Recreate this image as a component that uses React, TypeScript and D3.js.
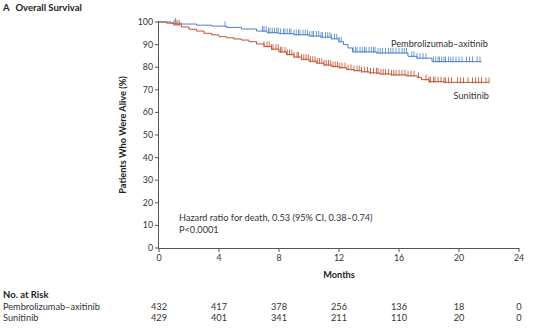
import React from "react";
import * as d3 from "d3";

const xTicks = [0, 4, 8, 12, 16, 20, 24];
const yTicks = [0, 10, 20, 30, 40, 50, 60, 70, 80, 90, 100];

const pembroMonths = [0, 0.8, 1.5, 2.5, 3.5, 4.5, 5.5, 6.5, 7.2, 8, 9, 10, 10.8, 11.5, 12, 12.3, 12.6, 12.9, 14.5, 16.6, 17.2, 18.2, 21.5];
const pembroSurv = [100, 99.5, 99.1, 98.6, 98.2, 97.6, 96.9, 96.0, 95.3, 94.9, 94.4, 93.8, 93.3, 92.6, 91.3, 90, 88.5, 86.8, 86.3, 84.8, 84, 82.5, 82.5];

const suniMonths = [0, 0.5, 1, 1.5, 2, 2.5, 3, 3.5, 4, 4.5, 5, 5.5, 6, 6.5, 7, 7.5, 8, 8.5, 9, 9.5, 10, 10.5, 11, 11.5, 12, 12.5, 13, 13.5, 14, 14.7, 15.5, 16.5, 17.2, 17.5, 18, 19, 22];
const suniSurv = [100, 99.5, 98.8, 97.8, 96.8, 96, 95, 94.3, 93.5, 93, 92.5, 92, 91.3, 90.3, 89.2, 88, 86.8, 85.6, 84.5, 83.5, 82.6, 81.8, 81, 80.3, 79.8, 79, 78.5, 78, 77.5, 77, 76.6, 76.2, 75.5, 74.5, 73.6, 73.3, 73.3];

const pembroCensor = [1.1, 4.4, 6.9, 7.0, 7.15, 7.3, 7.4, 7.55, 7.7, 7.85, 7.95, 8.1, 8.3, 8.4, 8.55, 8.7, 8.8, 9.0, 9.15, 9.3, 9.4, 9.6, 9.75, 9.9, 10.05, 10.2, 10.3, 10.5, 10.65, 10.8, 10.9, 11.1, 11.25, 11.4, 11.5, 11.7, 11.85, 12.0, 12.15, 12.95, 13.1, 13.2, 13.4, 13.55, 13.7, 13.8, 14.0, 14.15, 14.3, 14.4, 14.6, 14.75, 14.9, 15.1, 15.3, 15.45, 15.6, 15.8, 16.0, 16.2, 16.35, 16.5, 16.85, 17.0, 17.2, 17.4, 17.6, 17.8, 18.3, 18.45, 18.6, 18.7, 18.85, 19.0, 19.1, 19.3, 19.45, 19.6, 19.8, 20.0, 20.2, 20.5, 20.7, 20.9, 21.2, 21.4];
const suniCensor = [1.0, 1.2, 1.35, 7.0, 7.2, 7.35, 7.5, 7.6, 7.8, 7.95, 8.1, 8.2, 8.4, 8.55, 8.7, 8.85, 9.0, 9.2, 9.3, 9.5, 9.65, 9.8, 9.95, 10.1, 10.25, 10.4, 10.55, 10.7, 10.85, 11.0, 11.15, 11.3, 11.45, 11.6, 11.75, 11.9, 12.05, 12.2, 12.4, 12.6, 12.8, 13.0, 13.2, 13.35, 13.5, 13.7, 13.9, 14.1, 14.3, 14.5, 14.6, 14.8, 14.95, 15.1, 15.3, 15.5, 15.65, 15.8, 16.0, 16.2, 16.4, 16.6, 16.8, 17.0, 17.3, 17.8, 18.0, 18.1, 18.3, 18.4, 18.6, 18.8, 19.0, 19.1, 19.3, 19.5, 19.9, 20.1, 20.3, 20.6, 20.9, 21.1, 21.3, 21.5, 21.8, 22.0];

const riskTimes = [0, 4, 8, 12, 16, 20, 24];
const pembroRisk = ["432", "417", "378", "256", "136", "18", "0"];
const suniRisk = ["429", "401", "341", "211", "110", "20", "0"];

const BLUE = "#4f7fbf";
const BLUE_T = "#5e8fd0";
const RED = "#c2502f";
const RED_T = "#cc5a3a";
const FONT = "Lato, 'Open Sans', sans-serif";
const FS = 9.2;

export default function App() {
  const x = d3.scaleLinear().domain([0, 24]).range([159, 519]);
  const y = d3.scaleLinear().domain([0, 100]).range([248, 22]);

  const line = d3
    .line<[number, number]>()
    .x((d) => x(d[0]))
    .y((d) => y(d[1]))
    .curve(d3.curveStepAfter);

  const stepAt = (months: number[], surv: number[], t: number) => {
    const i = d3.bisectRight(months, t) - 1;
    return surv[Math.max(0, i)];
  };

  const series = [
    { months: pembroMonths, surv: pembroSurv, censor: pembroCensor, color: BLUE, tick: BLUE_T },
    { months: suniMonths, surv: suniSurv, censor: suniCensor, color: RED, tick: RED_T },
  ];

  return (
    <svg
      width={550}
      height={329}
      style={{ position: "absolute", left: 0, top: 0, background: "#fff" }}
      fontFamily={FONT}
    >
      <text x={3} y={11} fontSize={9.5} fontWeight={700} fill="#222">
        A<tspan dx={6}>Overall Survival</tspan>
      </text>

      {series.map((s, k) => (
        <g key={k}>
          <path
            d={line(s.months.map((m, i) => [m, s.surv[i]] as [number, number])) || ""}
            fill="none"
            stroke={s.color}
            strokeWidth={1}
          />
          {s.censor.map((c, j) => {
            const v = stepAt(s.months, s.surv, c);
            return (
              <line
                key={j}
                x1={x(c)}
                x2={x(c)}
                y1={y(v) - 5}
                y2={y(v) + 1}
                stroke={s.tick}
                strokeWidth={0.9}
              />
            );
          })}
        </g>
      ))}

      <line x1={158.5} x2={158.5} y1={y(100) - 1} y2={248.5} stroke="#555" strokeWidth={1} />
      {yTicks.map((t) => (
        <g key={t}>
          <line x1={155} x2={158.5} y1={y(t)} y2={y(t)} stroke="#555" />
          <text x={153} y={y(t) + 3} fontSize={8.8} textAnchor="end" fill="#333">
            {t}
          </text>
        </g>
      ))}
      <text
        transform={`translate(126,${(y(0) + y(100)) / 2}) rotate(-90)`}
        textAnchor="middle"
        fontSize={9.2}
        fontWeight={700}
        fill="#222"
      >
        Patients Who Were Alive (%)
      </text>

      <line x1={158.5} x2={519.5} y1={248.5} y2={248.5} stroke="#555" />
      {xTicks.map((t) => (
        <g key={t}>
          <line x1={x(t)} x2={x(t)} y1={248.5} y2={252} stroke="#555" />
          <text x={x(t)} y={261} fontSize={8.8} textAnchor="middle" fill="#333">
            {t}
          </text>
        </g>
      ))}
      <text x={x(12)} y={278} fontSize={9.2} fontWeight={700} textAnchor="middle" fill="#222">
        Months
      </text>

      <text x={391} y={47} fontSize={FS} fill="#333">
        Pembrolizumab–axitinib
      </text>
      <text x={489} y={99} fontSize={FS} textAnchor="end" fill="#333">
        Sunitinib
      </text>

      <text x={179} y={221} fontSize={FS} fill="#333">
        Hazard ratio for death, 0.53 (95% CI, 0.38–0.74)
      </text>
      <text x={179} y={233} fontSize={FS} fill="#333">
        P&lt;0.0001
      </text>

      <text x={3} y={298} fontSize={9.5} fontWeight={700} fill="#222">
        No. at Risk
      </text>
      <text x={3} y={309.5} fontSize={FS} fill="#333">
        Pembrolizumab–axitinib
      </text>
      <text x={3} y={321} fontSize={FS} fill="#333">
        Sunitinib
      </text>
      {riskTimes.map((t, i) => (
        <g key={t}>
          <text x={x(t)} y={309.5} fontSize={FS} textAnchor="middle" fill="#333">
            {pembroRisk[i]}
          </text>
          <text x={x(t)} y={321} fontSize={FS} textAnchor="middle" fill="#333">
            {suniRisk[i]}
          </text>
        </g>
      ))}
    </svg>
  );
}
